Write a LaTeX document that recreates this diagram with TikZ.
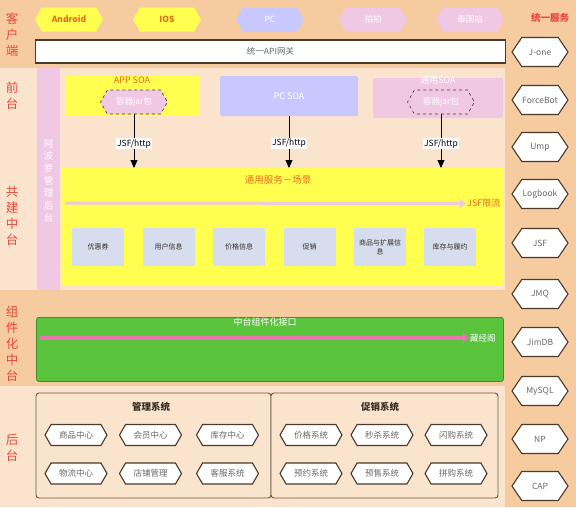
\documentclass[tikz,border=0pt]{standalone}
\usepackage{fontspec}
\setmainfont{Noto Sans CJK SC}
\usetikzlibrary{shapes.symbols,arrows.meta}
\definecolor{orangebg}{RGB}{247,203,160}
\definecolor{lightbg}{RGB}{251,228,206}
\definecolor{yel}{RGB}{255,255,80}
\definecolor{lav}{RGB}{200,200,255}
\definecolor{pinkc}{RGB}{240,200,228}
\definecolor{redlab}{RGB}{232,72,60}
\definecolor{orgtext}{RGB}{228,110,25}
\definecolor{svcbox}{RGB}{213,221,238}
\definecolor{greenc}{RGB}{90,196,60}
\definecolor{greenb}{RGB}{70,140,45}
\definecolor{hexb}{RGB}{75,58,42}
\definecolor{graytext}{RGB}{105,105,105}
\definecolor{pinkline}{RGB}{244,198,220}
\definecolor{pinkarrow}{RGB}{232,118,178}
\definecolor{darktext}{RGB}{55,45,35}
\tikzset{
  x=1pt, y=-1pt,
  tophex/.style={signal, signal to=east and west, signal pointer angle=120,
    minimum width=68pt, minimum height=24pt, inner sep=0pt, font=\fontsize{8.5}{10}\selectfont},
  righthex/.style={signal, signal to=east and west, signal pointer angle=112,
    draw=hexb, line width=1.1pt, fill=white, minimum width=56pt, minimum height=29pt,
    inner sep=0pt, text=graytext, font=\fontsize{8.5}{10}\selectfont},
  smallhex/.style={signal, signal to=east and west, signal pointer angle=120,
    draw=hexb, line width=1.1pt, fill=white, minimum width=62pt, minimum height=21pt,
    inner sep=0pt, text=graytext, font=\fontsize{8.5}{10}\selectfont},
  jarhex/.style={signal, signal to=east and west, signal pointer angle=120,
    draw=hexb, dashed, line width=0.6pt, fill=pinkc, minimum width=67pt, minimum height=24pt,
    inner sep=0pt, text=white, font=\fontsize{8.5}{10}\selectfont},
  sidelab/.style={text=redlab, align=center, font=\fontsize{12.5}{16}\selectfont},
  svc/.style={fill=svcbox, minimum width=52pt, minimum height=38pt, inner sep=1pt,
    align=center, text width=46pt, text=darktext, font=\fontsize{7}{9}\selectfont},
  jsflab/.style={fill=white, inner sep=1pt, text=black, font=\fontsize{8.5}{10}\selectfont},
  flow/.style={-{Triangle[length=8pt,width=7pt]}, black, line width=1pt},
  sysbox/.style={draw=hexb!85, line width=0.9pt, rounded corners=3pt, fill=lightbg},
  systitle/.style={text=darktext, font=\bfseries\fontsize{9.5}{11}\selectfont},
}
\begin{document}
\begin{tikzpicture}
% backgrounds
\fill[orangebg] (0,0) rectangle (576,507);
\fill[lightbg] (0,68) rectangle (505,290);
\fill[lightbg] (0,386) rectangle (505,507);
\useasboundingbox (0,0) rectangle (576,507);

% top row client hexagons
\node[tophex, fill=yel, text=orgtext, font=\bfseries\fontsize{8.5}{10}\selectfont] (android) at (69,19.5) {Android};
\node[tophex, fill=yel, text=orgtext, font=\bfseries\fontsize{8.5}{10}\selectfont] (ios) at (167,19.5) {IOS};
\node[tophex, fill=lav, text=white] (pc) at (270,19.5) {PC};
\node[tophex, fill=pinkc, text=white] (paipai) at (373,19.5) {拍拍};
\node[tophex, fill=pinkc, text=white] (thai) at (470,19.5) {泰国站};
\node[text=redlab, font=\bfseries\fontsize{9.5}{11}\selectfont] (unisvc) at (550,18) {统一服务};

% API gateway
\node[draw=hexb, line width=1.1pt, fill=white, minimum width=470pt, minimum height=23pt,
  inner sep=0pt, text=graytext, font=\fontsize{8.5}{10}\selectfont] (api) at (270.5,51.5) {统一API网关};

% left labels
\node[sidelab] (lkhd) at (12,35) {客\\户\\端};
\node[sidelab] (lqt) at (12,96) {前\\台};
\node[sidelab] (lgj) at (12,216) {共\\建\\中\\台};
\node[sidelab] (lzj) at (12,344) {组\\件\\化\\中\\台};
\node[sidelab] (lht) at (12,448) {后\\台};

% pink admin bar
\fill[pinkc] (37,68) rectangle (60,290);
\node[text=white, align=center, font=\fontsize{9.5}{12.3}\selectfont] (apollo) at (48.5,181) {阿\\波\\罗\\管\\理\\后\\台};

% front SOA boxes
\fill[yel] (65,76) rectangle (200,116);
\node[text=orgtext, font=\fontsize{9}{10}\selectfont] (appsoa) at (132,80.5) {APP SOA};
\node[jarhex] (appjar) at (134,102) {容器jar包};

\fill[lav, rounded corners=1.5pt] (220,76) rectangle (358,116);
\node[text=white, font=\fontsize{9}{10}\selectfont, inner sep=0pt] (pcsoa) at (289,96) {PC SOA};
\coordinate (pcbot) at (289,116);

\fill[pinkc, rounded corners=1.5pt] (373,78) rectangle (503,118);
\node[text=white, font=\fontsize{9}{10}\selectfont] (tysoa) at (438,80) {通用SOA};
\node[jarhex] (tyjar) at (441,102) {容器jar包};

% shared service block
\node[fill=yel, minimum width=442pt, minimum height=117pt, inner sep=0pt, anchor=north west] (svcblock) at (61,168) {};
\node[text=orgtext, font=\fontsize{9.5}{11}\selectfont] (svctitle) at (278,179.5) {通用服务－场景};
\coordinate (lim0) at (65,203);
\node[text=orgtext, font=\fontsize{9}{10}\selectfont, anchor=west, inner sep=1pt] (jsflim) at (466,203.5) {JSF限流};
\draw[pinkline, line width=3pt, -{Triangle[length=6pt,width=9pt]}] (lim0) -- (jsflim.west);

\node[svc] (s1) at (98,247) {优惠券};
\node[svc] (s2) at (168.5,247) {用户信息};
\node[svc] (s3) at (239,247) {价格信息};
\node[svc] (s4) at (309.5,247) {促销};
\node[svc] (s5) at (380,247) {商品与扩展信\\息};
\node[svc] (s6) at (450,247) {库存与履约};

% arrows
\draw[flow] (appjar.south) -- node[jsflab, pos=0.55] {JSF/http} (appjar.south |- svcblock.north);
\draw[flow] (pcbot) -- node[jsflab, pos=0.53] {JSF/http} (pcbot |- svcblock.north);
\draw[flow] (tyjar.south) -- node[jsflab, pos=0.55] {JSF/http} (tyjar.south |- svcblock.north);

% component middle platform
\node[fill=greenc, draw=greenb, line width=0.9pt, rounded corners=2.5pt, minimum width=467pt,
  minimum height=64pt, inner sep=0pt, anchor=north west] (green) at (36,317) {};
\node[text=white, font=\fontsize{9}{10}\selectfont] (gtitle) at (265,322.5) {中台组件化接口};
\coordinate (cj0) at (40,338);
\node[text=white, font=\fontsize{8.5}{10}\selectfont, anchor=west, inner sep=1pt] (cjg) at (469,338) {藏经阁};
\draw[pinkarrow, line width=4pt, -{Triangle[length=6pt,width=10pt]}] (cj0) -- (cjg.west);

% back-office systems
\draw[sysbox] (36,393) rectangle (271,498);
\draw[sysbox] (271,393) rectangle (498,498);
\node[systitle] (mgmt) at (151,407) {管理系统};
\node[systitle] (promo) at (380,407) {促销系统};

\node[smallhex] (b1) at (76,435) {商品中心};
\node[smallhex] (b2) at (150.5,435) {会员中心};
\node[smallhex] (b3) at (227.5,435) {库存中心};
\node[smallhex] (b4) at (76,473.5) {物流中心};
\node[smallhex] (b5) at (150.5,473.5) {店铺管理};
\node[smallhex] (b6) at (227.5,473.5) {客服系统};
\node[smallhex] (p1) at (311,435) {价格系统};
\node[smallhex] (p2) at (382,435) {秒杀系统};
\node[smallhex] (p3) at (456,435) {闪购系统};
\node[smallhex] (p4) at (311,473.5) {预约系统};
\node[smallhex] (p5) at (382,473.5) {预售系统};
\node[smallhex] (p6) at (456,473.5) {拼购系统};

% right column hexagons
\node[righthex] (r1) at (540,52) {J-one};
\node[righthex] (r2) at (540,100) {ForceBot};
\node[righthex] (r3) at (540,147) {Ump};
\node[righthex] (r4) at (540,194) {Logbook};
\node[righthex] (r5) at (540,243) {JSF};
\node[righthex] (r6) at (540,294) {JMQ};
\node[righthex] (r7) at (540,342) {JimDB};
\node[righthex] (r8) at (540,391) {MySQL};
\node[righthex] (r9) at (540,439) {NP};
\node[righthex] (r10) at (540,486) {CAP};
\end{tikzpicture}
\end{document}
